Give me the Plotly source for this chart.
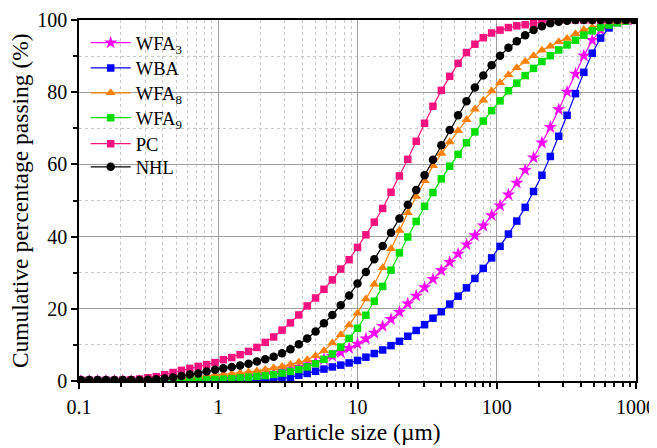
import plotly.graph_objects as go

# Particle sizes (µm)
sizes = [0.1031, 0.1184, 0.1360, 0.1563, 0.1795, 0.2062, 0.2368, 0.2720, 0.3125, 0.3590,
         0.4123, 0.4737, 0.5441, 0.6250, 0.7179, 0.8247, 0.9473, 1.088, 1.250, 1.436,
         1.649, 1.895, 2.176, 2.500, 2.872, 3.299, 3.789, 4.353, 5.000, 5.743,
         6.598, 7.579, 8.706, 10.00, 11.49, 13.20, 15.16, 17.41, 20.00, 22.97,
         26.39, 30.31, 34.82, 40.00, 45.95, 52.78, 60.63, 69.64, 80.00, 91.90,
         105.6, 121.3, 139.3, 160.0, 183.8, 211.1, 242.5, 278.6, 320.0, 367.6,
         422.2, 485.0, 557.2, 640.0, 735.2, 844.5, 970.1]

wfa3 = [0, 0, 0, 0, 0, 0, 0, 0, 0, 0, 0, 0, 0,
        0.05, 0.1, 0.2, 0.3, 0.4, 0.6, 0.8, 1.1, 1.4, 1.8, 2.2, 2.7, 3.2, 3.8, 4.5, 5.2, 6.0, 6.9, 7.9, 9.1,
        10.3, 11.7, 13.3, 15.2, 17.1, 19.1, 21.4, 23.6, 25.9, 28.2, 30.6, 32.9, 35.2, 37.8, 40.3, 43.0,
        45.9, 48.6, 51.6, 54.9, 58.4, 61.9, 66.0, 70.3, 75.2, 80.1, 85.1, 90.1, 94.4, 97.2, 98.9, 99.7,
        100, 100]

wba = [0, 0, 0, 0, 0, 0, 0, 0, 0, 0, 0, 0, 0, 0, 0, 0, 0, 0, 0, 0, 0,
       0.05, 0.2, 0.4, 0.6, 1.0, 1.6, 2.1, 2.7, 3.3, 3.9, 4.4, 5.0,
       5.7, 6.6, 7.6, 8.6, 9.8, 11.0, 12.4, 14.0, 15.6, 17.4, 19.2, 21.3, 23.5, 25.8, 28.4, 31.2,
       34.1, 37.3, 40.7, 44.3, 48.1, 52.5, 57.0, 62.2, 67.8, 73.6, 79.6, 85.5, 90.8, 95.0, 97.8, 99.3,
       99.9, 100]

wfa8 = [0.3, 0.3, 0.3, 0.3, 0.3, 0.3, 0.3,
        0.35, 0.4, 0.5, 0.6, 0.7, 0.85, 1.0, 1.2, 1.4, 1.6, 1.8, 2.0, 2.2, 2.5, 2.8, 3.2, 3.6, 4.0,
        4.6, 5.2, 5.9, 7.0, 8.4, 10.5, 12.8, 15.5,
        18.8, 22.7, 26.8, 31.4, 36.6, 41.7, 46.6, 51.1, 55.5, 59.6, 63.0, 66.2, 69.3, 72.4, 75.3, 77.8,
        80.3, 82.6, 84.8, 86.8, 88.5, 90.1, 91.6, 92.7, 94.0, 94.9, 96.2, 97.3, 98.0, 98.6, 99.1, 99.4,
        99.8, 100]

wfa9 = [0, 0, 0, 0, 0, 0, 0, 0, 0, 0, 0, 0, 0,
        0.1, 0.2, 0.3, 0.4, 0.5, 0.65, 0.85, 1.05, 1.3, 1.5, 1.8, 2.2, 2.65, 3.2, 3.9, 4.8, 6.0, 7.5,
        9.4, 11.8,
        14.6, 18.2, 22.1, 26.2, 30.7, 35.5, 39.9, 44.2, 48.4, 52.2, 56.0, 59.5, 62.8, 66.0, 69.0, 72.0,
        74.9, 77.6, 80.4, 82.5, 84.6, 86.6, 88.5, 90.1, 91.7, 93.1, 94.4, 95.8, 97.0, 97.9, 98.6, 99.2,
        99.7, 100]

pc = [0.2, 0.2, 0.2, 0.2, 0.2, 0.25, 0.35, 0.55, 0.9, 1.2, 1.75, 2.35, 2.95, 3.5, 4.05, 4.55,
      5.1, 5.9, 6.5, 7.3, 8.2, 9.3, 10.7, 12.2, 14.1, 16.1, 18.3, 20.8, 23.0, 25.4, 28.0, 31.0, 33.6,
      37.0, 40.5, 44.0, 47.8, 52.3, 56.8, 61.4, 66.4, 71.4, 76.1, 80.5, 84.4, 88.0, 91.0, 93.3, 95.1,
      96.4, 97.2, 97.9, 98.4, 98.7, 99.1, 99.5, 99.8,
      100, 100, 100, 100, 100, 100, 100, 100, 100, 100]

nhl = [0.25, 0.25, 0.25, 0.25, 0.25, 0.25, 0.3, 0.3, 0.35,
       0.5, 0.7, 1.0, 1.4, 1.8, 2.1, 2.6, 3.1, 3.5, 3.9, 4.3, 4.8, 5.4, 6.0, 6.7, 7.7, 8.8, 10.2,
       11.8, 13.7, 16.0, 18.3, 21.0, 23.7,
       27.0, 30.2, 33.7, 37.4, 41.1, 45.0, 48.8, 52.9, 57.0, 61.3, 65.3, 69.5, 73.6, 77.5, 81.3, 84.6,
       87.5, 90.1, 92.3, 94.1, 95.8, 97.2, 98.3, 99.1, 99.5, 99.8,
       100, 100, 100, 100, 100, 100, 100, 100]

names = ["WFA<sub>3</sub>", "WBA", "WFA<sub>8</sub>", "WFA<sub>9</sub>", "PC", "NHL"]
series = [wfa3, wba, wfa8, wfa9, pc, nhl]
colors = ["#FF00FF", "#0000FF", "#FF8000", "#00DD00", "#F5127E", "#000000"]
symbols = ["star", "square", "triangle-up", "square", "square", "circle"]
msizes = [10, 7.5, 9, 7.5, 7.5, 8.5]

x_tickvals = [0.1, 1, 10, 100, 1000]
x_ticktext = ["0.1", "1", "10", "100", "1000"]

FONT = "Liberation Serif"

# one small legend per entry, stacked with a fixed pitch
legend_ids = ["legend", "legend2", "legend3", "legend4", "legend5", "legend6"]
legend_y = [0.936, 0.866, 0.797, 0.728, 0.656, 0.592]

fig = go.Figure()
for nm, ys, c, s, ms, lg in zip(names, series, colors, symbols, msizes, legend_ids):
    fig.add_trace(go.Scatter(
        x=sizes, y=ys, name=nm, mode="lines+markers",
        line=dict(color=c, width=1.2),
        marker=dict(color=c, symbol=s, size=ms, line=dict(width=0)),
        legend=lg,
    ))

legend_layout = {}
for lg, ly in zip(legend_ids, legend_y):
    legend_layout[lg] = dict(x=0.012, y=ly, xanchor="left", yanchor="middle",
                             bgcolor="rgba(0,0,0,0)", font=dict(family=FONT, size=18.5),
                             itemwidth=40)

# the page body adds an 8px offset; size and margins compensate for it
fig.update_layout(
    width=649, height=440,
    margin=dict(l=71, r=21, t=12, b=67, autoexpand=False),
    paper_bgcolor="white", plot_bgcolor="white",
    font=dict(family=FONT, size=20, color="black"),
    showlegend=True,
    **legend_layout,
)

fig.add_annotation(text="Particle size (µm)", xref="paper", yref="paper",
                   x=0.499, y=-0.141, xanchor="center", yanchor="middle",
                   showarrow=False, font=dict(family=FONT, size=23.5, color="black"))
fig.add_annotation(text="Cumulative percentage passing (%)", xref="paper", yref="paper",
                   x=-0.106, y=0.501, xanchor="center", yanchor="middle", textangle=-90,
                   showarrow=False, font=dict(family=FONT, size=23.5, color="black"))

fig.update_xaxes(
    type="log", range=[-1, 3], automargin=False,
    tickvals=x_tickvals, ticktext=x_ticktext,
    ticks="outside", ticklen=6, tickwidth=1.5, tickcolor="black",
    ticklabelstandoff=1,
    showline=True, linecolor="black", linewidth=1.5, mirror=True,
    showgrid=True, gridcolor="#A0A0A0", gridwidth=1.3,
    minor=dict(dtick="D1", ticks="outside", ticklen=4, tickcolor="black",
               showgrid=True, gridcolor="#C8C8C8", griddash="3px,3px", gridwidth=1),
    tickfont=dict(family=FONT, size=20),
    zeroline=False,
)
fig.update_yaxes(
    range=[0, 100], dtick=20, automargin=False,
    ticks="outside", ticklen=6, tickwidth=1.5, tickcolor="black",
    showline=True, linecolor="black", linewidth=1.5, mirror=True,
    showgrid=True, gridcolor="#A0A0A0", gridwidth=1.3,
    minor=dict(dtick=10, ticks="outside", ticklen=4, tickcolor="black",
               showgrid=True, gridcolor="#C8C8C8", griddash="3px,3px", gridwidth=1),
    tickfont=dict(family=FONT, size=20),
    zeroline=False,
)

fig.write_html("out.html")
